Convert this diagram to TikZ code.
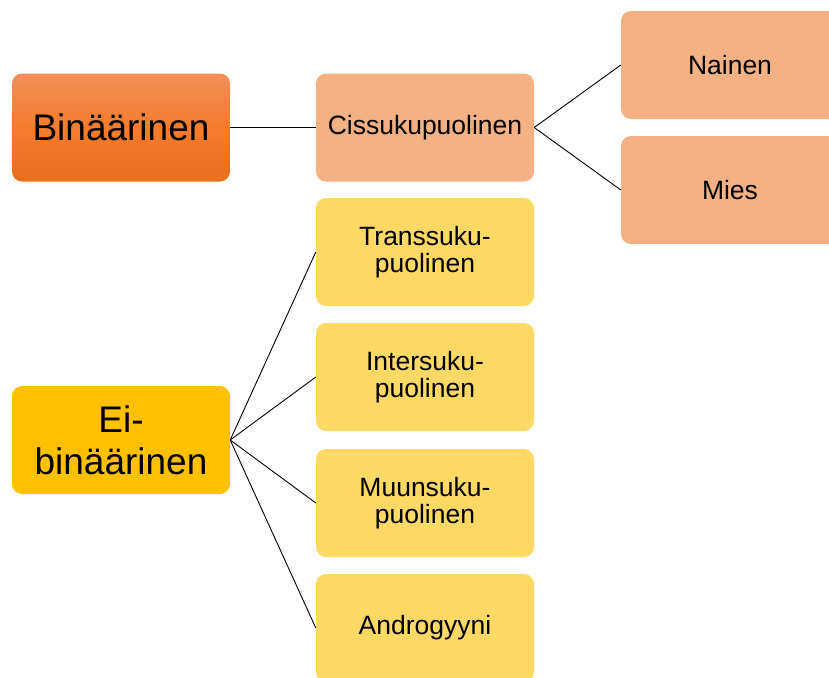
\documentclass[tikz,border=0pt]{standalone}
\usepackage{fontspec}
\setmainfont{Liberation Sans}
\definecolor{cisfill}{HTML}{F4B183}
\definecolor{yelfill}{HTML}{FFD966}
\definecolor{eifill}{HTML}{FFC000}
\definecolor{orTop}{HTML}{F2905A}
\definecolor{orMid}{HTML}{F47C2C}
\definecolor{orBot}{HTML}{E86E1E}
\begin{document}
\begin{tikzpicture}[x=1pt,y=-1pt,
  box/.style={rounded corners=10pt, minimum width=218pt, minimum height=108pt,
    inner sep=0pt, align=center, text=black},
  small/.style={box, font=\fontsize{26.5}{27}\selectfont},
  big/.style={box, font=\fontsize{37}{42}\selectfont},
  link/.style={draw=black, line width=0.9pt}]
\useasboundingbox (0,0) rectangle (829,677);
\node[big, top color=orTop, bottom color=orBot, middle color=orMid] (bin) at (121,127.5) {Bin\"a\"arinen};
\node[small, fill=cisfill] (cis) at (425,127.5) {Cissukupuolinen};
\node[small, fill=cisfill] (nai) at (730,65) {Nainen};
\node[small, fill=cisfill] (mie) at (730,190) {Mies};
\node[small, fill=yelfill] (tra) at (425,252) {Transsuku-\\puolinen};
\node[small, fill=yelfill] (int) at (425,377) {Intersuku-\\puolinen};
\node[small, fill=yelfill] (muu) at (425,503) {Muunsuku-\\puolinen};
\node[small, fill=yelfill] (and) at (425,628) {Androgyyni};
\node[big, fill=eifill] (ei) at (121,440) {Ei-\\bin\"a\"arinen};
\draw[link] (bin.east) -- (cis.west);
\draw[link] (cis.east) -- (nai.west);
\draw[link] (cis.east) -- (mie.west);
\draw[link] (ei.east) -- (tra.west);
\draw[link] (ei.east) -- (int.west);
\draw[link] (ei.east) -- (muu.west);
\draw[link] (ei.east) -- (and.west);
\end{tikzpicture}
\end{document}
